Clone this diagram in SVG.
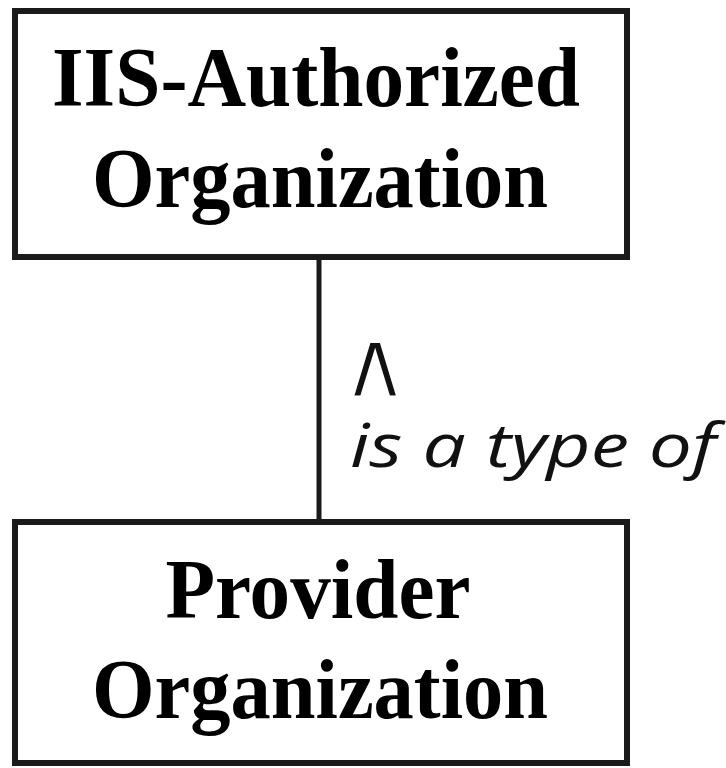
<svg xmlns="http://www.w3.org/2000/svg" width="726" height="768" viewBox="0 0 726 768">
  <style>
    .box { fill: #ffffff; stroke: #1a1a1a; stroke-width: 6; }
    .name { font-family: "Liberation Serif", "Times New Roman", serif; font-weight: bold; font-size: 84px; fill: #000000; text-anchor: middle; }
    .link { stroke: #1a1a1a; stroke-width: 5; fill: none; }
    .role { font-family: "Open Sans", "Noto Sans", sans-serif; font-style: italic; font-size: 60px; fill: #111111; stroke: none; }
    /* large caret, thinned by a white outline painted over the glyph */
    .caret { font-family: "DejaVu Sans", sans-serif; font-size: 96px; fill: #111111; stroke: #ffffff; stroke-width: 3; }
  </style>
  <rect width="726" height="768" fill="#ffffff"/>

  <!-- relationship connector with its two-line reading-direction label -->
  <g id="connectors">
    <line class="link" x1="319" y1="257" x2="319" y2="522"/>
    <text class="role"><tspan class="caret" x="340" y="397">∧</tspan><tspan x="350" y="467" textLength="366" lengthAdjust="spacingAndGlyphs">is a type of</tspan></text>
  </g>

  <g id="iis-authorized-organization">
    <rect class="box" x="15" y="11" width="612" height="246"/>
    <text class="name" x="316" y="106" textLength="528" lengthAdjust="spacingAndGlyphs">IIS-Authorized</text>
    <text class="name" x="320" y="207" textLength="456" lengthAdjust="spacingAndGlyphs">Organization</text>
  </g>

  <g id="provider-organization">
    <rect class="box" x="15" y="522" width="612" height="241"/>
    <text class="name" x="318" y="618" textLength="305" lengthAdjust="spacingAndGlyphs">Provider</text>
    <text class="name" x="320" y="718" textLength="456" lengthAdjust="spacingAndGlyphs">Organization</text>
  </g>
</svg>
